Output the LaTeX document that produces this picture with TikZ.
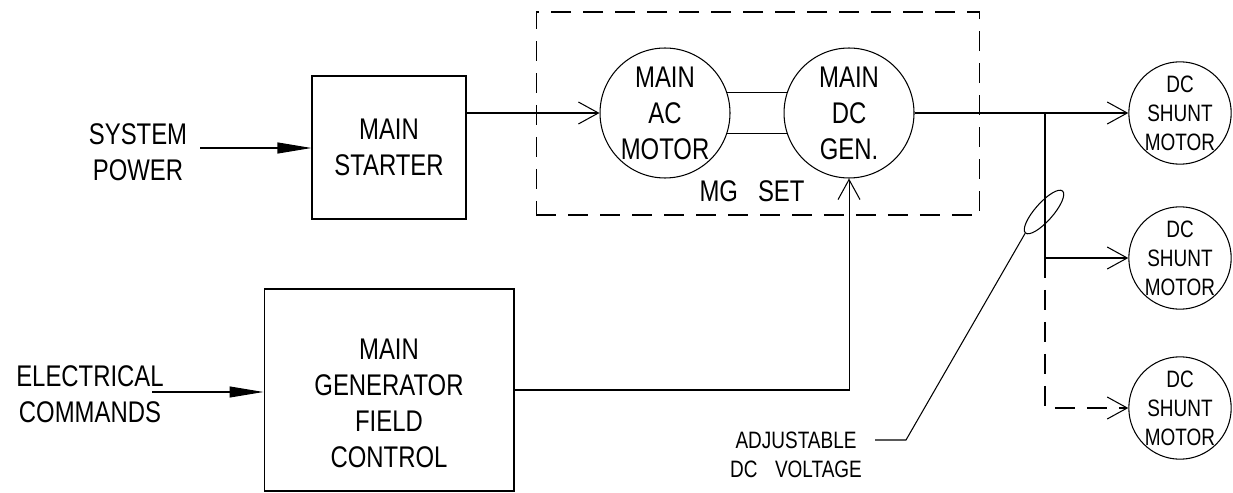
\documentclass[tikz,border=0pt]{standalone}
\usepackage{fontspec}
\setmainfont{Liberation Sans}[FakeStretch=0.8]
\usepackage{tikz}
\usetikzlibrary{arrows.meta,positioning,shapes.geometric}

\begin{document}
\begin{tikzpicture}[
    x=0.02cm, y=-0.02cm,
    line width=0.6pt,
    bigtxt/.style={font=\fontsize{17}{20.5}\selectfont, align=center},
    smalltxt/.style={font=\fontsize{13.5}{16.5}\selectfont, align=center},
    blockbox/.style={rectangle, draw, inner sep=0pt, bigtxt},
    machine/.style={circle, draw, minimum size=2.6cm, inner sep=0pt, bigtxt},
    shunt/.style={circle, draw, minimum size=2cm, inner sep=0pt, smalltxt},
    feed/.style={-{Triangle[length=0.68cm, width=0.22cm]}},
    supply/.style={-{Straight Barb[length=0.4cm, width=0.44cm]}},
    dashline/.style={dash pattern=on 0.4cm off 0.24cm}
]
    \useasboundingbox (0,0) rectangle (1233,493);

    % inputs and control blocks
    \node[bigtxt] (syspower) at (138,152) {SYSTEM\\POWER};
    \node[blockbox, minimum width=3.08cm, minimum height=2.86cm] (starter) at (389,147.5) {MAIN\\STARTER};
    \node[bigtxt] (commands) at (90,394) {ELECTRICAL\\COMMANDS};
    \node[blockbox, minimum width=5cm, minimum height=4.04cm] (fieldctl) at (389,390) {};
    \node[bigtxt] (fieldtxt) at (389,403) {MAIN\\GENERATOR\\FIELD\\CONTROL};

    % MG set
    \node[draw, dashline, minimum width=8.88cm, minimum height=4.06cm] (mgset) at (758,113.5) {};
    \node[machine] (acmotor) at (665,113) {MAIN\\AC\\MOTOR};
    \node[machine, right=1.06cm of acmotor] (dcgen) {MAIN\\DC\\GEN.};
    \node[bigtxt] (mglabel) at (752,191) {MG\hspace{0.4cm}SET};

    % driven motors
    \node[shunt] (shunta) at (1180,113) {DC\\SHUNT\\MOTOR};
    \node[shunt] (shuntb) at (1180,258) {DC\\SHUNT\\MOTOR};
    \node[shunt] (shuntc) at (1180,408) {DC\\SHUNT\\MOTOR};

    \node[draw, ellipse, minimum width=1.12cm, minimum height=0.36cm, inner sep=0pt, rotate=48.5] (clamp) at (1044,212) {};
    \node[smalltxt] (adjvolt) at (796,455) {ADJUSTABLE\\DC\hspace{0.35cm}VOLTAGE};

    \coordinate (sysin) at (200,148);
    \coordinate (elec) at (152,392);
    \coordinate (tapa) at (1045,113);
    \coordinate (tapb) at (1045,258);
    \coordinate (knee) at (906,440);
    \coordinate (lead) at (875,440);

    \draw[feed] (sysin) -- (sysin -| starter.west);
    \draw[supply] (starter.east |- acmotor.west) -- (acmotor.west);
    \draw (acmotor.18) -- (dcgen.162);
    \draw (acmotor.-18) -- (dcgen.-162);
    \draw[supply] (dcgen.east) -- (shunta.west);
    \draw (tapa) -- (tapb);
    \draw[supply] (tapb) -- (shuntb.west);
    \draw[dashline, supply] (tapb) |- (shuntc.west);
    \draw[feed] (elec) -- (elec -| fieldctl.west);
    \draw[supply] (fieldctl.east) -| (dcgen.south);
    \draw (clamp.west) -- (knee) -- (lead);
\end{tikzpicture}
\end{document}
